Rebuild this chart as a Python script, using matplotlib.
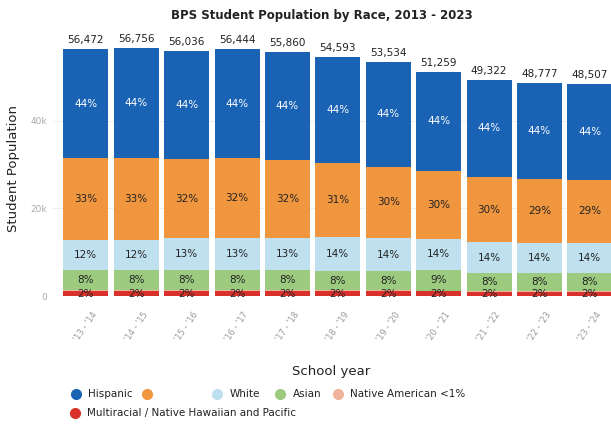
import matplotlib.pyplot as plt
from matplotlib.lines import Line2D
import numpy as np

plt.rcParams['font.family'] = ['DejaVu Sans']

years = ["'13 - '14", "'14 - '15", "'15 - '16", "'16 - '17", "'17 - '18", "'18 - '19",
         "'19 - '20", "'20 - '21", "'21 - '22", "'22 - '23", "'23 - '24"]
totals = [56472, 56756, 56036, 56444, 55860, 54593, 53534, 51259, 49322, 48777, 48507]

# percent shares per year, bottom of stack first
multiracial_pct = [2, 2, 2, 2, 2, 2, 2, 2, 2, 2, 2]
native_am_pct = [0.4, 0.4, 0.4, 0.4, 0.4, 0.4, 0.4, 0.4, 0.4, 0.4, 0.4]
asian_pct = [8, 8, 8, 8, 8, 8, 8, 9, 8, 8, 8]
white_pct = [12, 12, 13, 13, 13, 14, 14, 14, 14, 14, 14]
black_pct = [33, 33, 32, 32, 32, 31, 30, 30, 30, 29, 29]
hispanic_pct = [44, 44, 44, 44, 44, 44, 44, 44, 44, 44, 44]

series = [
    ('Multiracial / Native Hawaiian and Pacific', multiracial_pct, '#d8302a', '#222222', True),
    ('Native American <1%', native_am_pct, '#f0b49c', '#222222', False),
    ('Asian', asian_pct, '#9ccb80', '#222222', True),
    ('White', white_pct, '#bfe0ee', '#222222', True),
    ('', black_pct, '#f0963f', '#222222', True),
    ('Hispanic', hispanic_pct, '#1a62b4', 'white', True),
]

totals = np.array(totals, dtype=float)
pct_sum = np.sum([np.array(s[1], dtype=float) for s in series], axis=0)

fig = plt.figure(figsize=(6.11, 4.24), dpi=100)
ax = fig.add_axes([53 / 611, 1 - 296 / 424, 558 / 611, 256 / 424])

x = np.arange(len(years))
bottom = np.zeros(len(years))
for name, pct, color, txt_color, show in series:
    pct = np.array(pct, dtype=float)
    vals = totals * pct / pct_sum
    ax.bar(x, vals, 0.893, bottom=bottom, color=color, zorder=2)
    if show:
        for i in range(len(x)):
            ax.text(x[i], bottom[i] + vals[i] / 2, f'{pct[i]:.0f}%', ha='center', va='center',
                    fontsize=7.5, color=txt_color, zorder=3)
    bottom += vals

for i in range(len(x)):
    ax.text(x[i], bottom[i] + 900, f'{int(totals[i]):,}', ha='center', va='bottom',
            fontsize=7.5, color='#222222')

ax.set_xlim(-0.651, 10.42)
ax.set_ylim(0, 58514)
ax.set_yticks([0, 20000, 40000])
ax.set_yticklabels(['0', '20k', '40k'])
ax.grid(axis='y', color='#eeeeee', linewidth=0.8, zorder=0)
ax.tick_params(axis='y', length=0, labelsize=6.5, labelcolor='#aaaaaa', pad=4)
ax.set_xticks(x)
ax.set_xticklabels(years, rotation=55, ha='center', va='top', fontsize=6, color='#999999')
ax.tick_params(axis='x', length=0, pad=10)
for s in ax.spines.values():
    s.set_visible(False)

ax.set_ylabel('Student Population', fontsize=9.5, color='#222222', labelpad=8)
fig.text(331 / 611, 1 - 372 / 424, 'School year', ha='center', va='center', fontsize=9.5,
         color='#222222')
fig.text(322 / 611, 1 - 15 / 424, 'BPS Student Population by Race, 2013 - 2023', ha='center',
         va='center', fontsize=8.5, fontweight='bold', color='#222222')

# legend drawn as a flowing row of dots and names
legend_items = [
    ('Hispanic', '#1a62b4', 75.5, 394),
    ('', '#f0963f', 147, 394),
    ('White', '#bfe0ee', 217, 394),
    ('Asian', '#9ccb80', 280, 394),
    ('Native American <1%', '#f0b49c', 338, 394),
    ('Multiracial / Native Hawaiian and Pacific', '#d8302a', 74.5, 413),
]
for label, color, px, py in legend_items:
    fx, fy = px / 611, 1 - py / 424
    fig.add_artist(Line2D([fx], [fy], marker='o', markersize=7, color=color, linestyle='none',
                          transform=fig.transFigure))
    if label:
        fig.text(fx + 12.5 / 611, fy, label, ha='left', va='center', fontsize=7.5, color='#222222')

fig.savefig('out.png', dpi=100)
